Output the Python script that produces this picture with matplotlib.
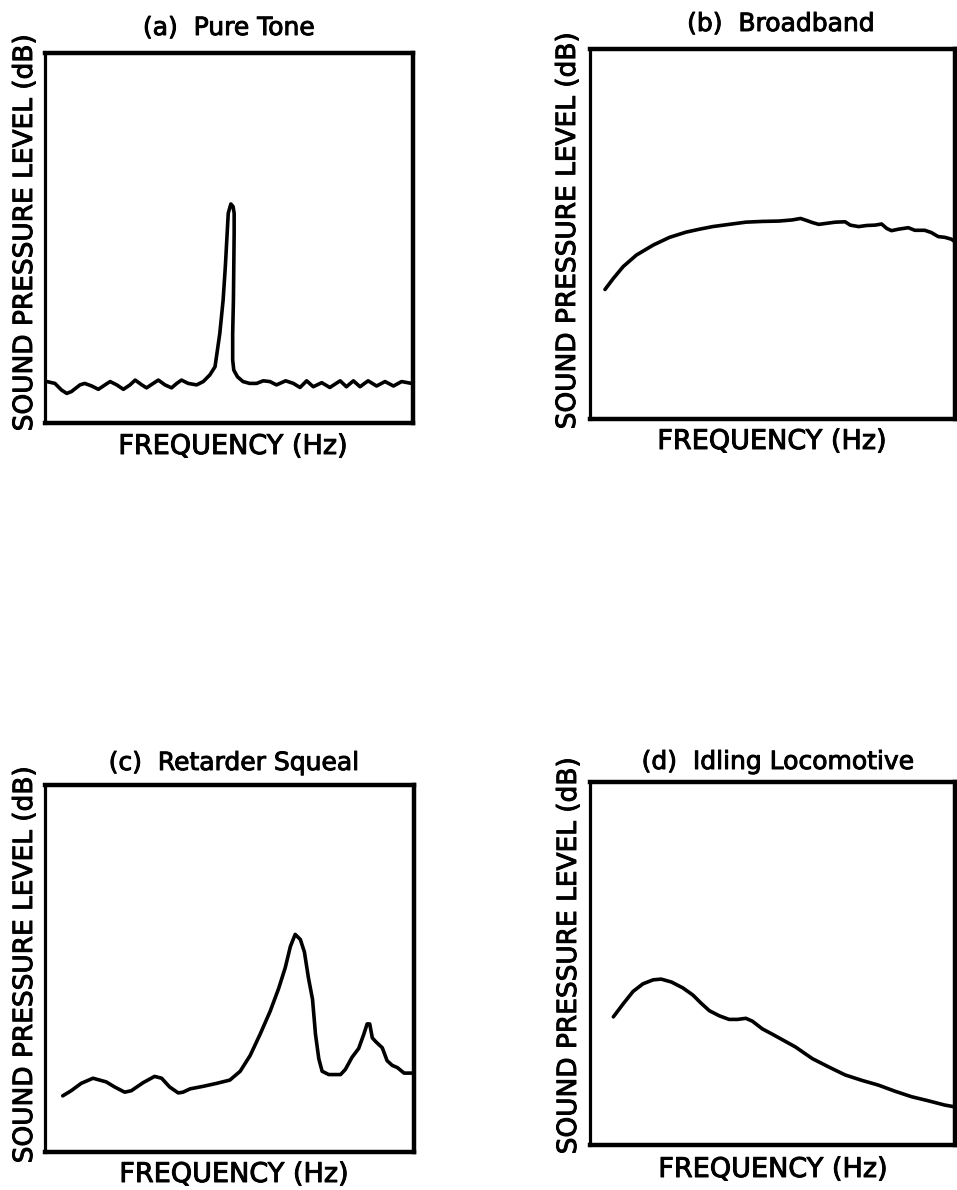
import matplotlib
matplotlib.use("Agg")
from matplotlib import pyplot as plt
from matplotlib import patheffects as pe

W, H = 957, 1190

# (a) Pure Tone - x, y in percent of the plot box
tone_x = [0.5, 2.7, 4.5, 5.9, 7.2, 9.5, 10.8, 12.7, 14.5, 16.3, 17.7, 19.5, 21.3, 23.1,
          24.5, 26.3, 27.6, 29.4, 30.8, 32.6, 34.4, 35.8, 37.1, 38.9, 41.2, 43.0, 44.8,
          46.2, 47.5, 48.4, 49.0, 49.5, 49.8, 50.5, 51.1, 51.4, 51.4, 51.2, 51.0, 51.0,
          51.3, 52.3, 53.8, 55.6, 57.5, 59.3, 61.1, 62.9, 65.4, 67.5, 69.3, 71.1, 72.9,
          75.2, 77.4, 80.2, 81.9, 83.8, 85.6, 87.8, 90.1, 92.4, 94.7, 96.9, 99.6]
tone_y = [11.2, 10.7, 8.9, 8.0, 8.5, 10.3, 10.7, 10.0, 9.1, 10.3, 11.2, 10.3, 9.1, 10.3,
          11.6, 10.3, 9.5, 10.7, 11.6, 10.3, 9.5, 10.7, 11.6, 10.7, 10.3, 11.2, 13.0,
          15.2, 24.2, 33.2, 42.2, 51.3, 56.7, 59.2, 58.5, 56.7, 51.3, 33.2, 24.2, 17.0,
          14.3, 12.5, 11.2, 10.7, 10.7, 11.4, 11.2, 10.3, 11.4, 10.7, 9.6, 11.4, 9.8,
          10.9, 9.6, 11.4, 9.8, 11.4, 9.8, 11.4, 10.0, 11.2, 10.0, 11.2, 10.7]

# (b) Broadband
broad_x = [4.1, 6.4, 9.1, 12.7, 17.3, 21.8, 26.3, 30.0, 33.6, 38.1, 42.7, 47.2, 51.8,
           55.4, 57.7, 59.5, 60.9, 62.7, 64.9, 67.2, 69.9, 71.3, 73.6, 75.8, 78.1, 79.9,
           81.3, 82.6, 84.5, 87.2, 89.0, 91.7, 93.5, 95.4, 97.2, 99.0, 100.0]
broad_y = [35.0, 38.0, 41.2, 44.3, 47.0, 49.1, 50.5, 51.3, 52.0, 52.6, 53.2, 53.4, 53.5,
           53.8, 54.2, 53.6, 53.1, 52.6, 52.9, 53.2, 53.3, 52.4, 52.0, 52.3, 52.4, 52.7,
           51.5, 50.9, 51.3, 51.7, 51.0, 51.0, 50.4, 49.3, 49.1, 48.6, 47.9]

# (c) Retarder Squeal
squeal_x = [4.8, 7.1, 9.8, 13.0, 16.6, 18.9, 21.6, 23.4, 26.6, 29.7, 31.6, 33.8, 36.1,
            37.4, 39.3, 42.9, 46.5, 50.1, 52.9, 55.6, 58.3, 61.0, 63.3, 65.1, 66.5, 67.8,
            69.2, 70.3, 71.4, 72.5, 73.3, 74.2, 75.1, 76.9, 80.1, 81.4, 83.2, 85.0, 86.4,
            87.3, 88.0, 88.7, 89.6, 91.4, 92.7, 94.1, 95.5, 97.3, 99.5]
squeal_y = [15.3, 16.7, 18.7, 20.1, 19.1, 17.7, 16.3, 16.7, 18.9, 20.6, 20.1, 17.7, 16.1,
            16.3, 17.2, 17.9, 18.7, 19.6, 22.0, 26.3, 32.1, 38.3, 44.5, 50.2, 56.0, 59.3,
            57.9, 54.5, 47.4, 41.6, 32.1, 25.4, 22.0, 21.1, 21.1, 22.5, 25.8, 28.2, 32.1,
            34.9, 34.9, 31.1, 30.1, 28.4, 24.9, 23.6, 23.0, 21.5, 21.5]

# (d) Idling Locomotive
idle_x = [6.4, 9.1, 11.8, 14.5, 17.3, 19.5, 22.3, 25.4, 28.2, 30.4, 32.7, 35.4, 38.1,
          40.4, 42.7, 44.5, 47.2, 50.0, 52.7, 56.3, 60.9, 65.4, 69.9, 74.5, 79.0, 83.6,
          88.1, 92.6, 97.2, 100.0]
idle_y = [35.3, 38.9, 42.3, 44.4, 45.5, 45.7, 44.9, 43.3, 41.3, 39.1, 37.0, 35.6, 34.6,
          34.6, 34.9, 34.1, 32.0, 30.5, 29.0, 27.0, 23.8, 21.5, 19.3, 17.8, 16.5, 14.8,
          13.3, 12.2, 11.0, 10.5]

titles = ["(a)  Pure Tone", "(b)  Broadband", "(c)  Retarder Squeal", "(d)  Idling Locomotive"]
ylab = "SOUND PRESSURE LEVEL (dB)"
xlab = "FREQUENCY (Hz)"

# plot boxes in pixels: left, right, top, bottom
boxes = [(45, 413, 53, 423), (590, 955, 49, 419), (45, 414, 785, 1152), (590, 955, 782, 1145)]
# text anchor pixels: title, ylabel, xlabel
title_pos = [(229, 28), (781, 24), (234, 763), (778, 762)]
ylab_pos = [(25, 233), (568, 231), (25, 965), (569, 956)]
xlab_pos = [(233, 447), (772, 442), (234, 1175), (773, 1170)]

series = [(tone_x, tone_y), (broad_x, broad_y), (squeal_x, squeal_y), (idle_x, idle_y)]

fig = plt.figure(figsize=(W / 100, H / 100), dpi=100)
fig.patch.set_facecolor("white")

# slightly heavier text, like the original lettering
heavy = [pe.withStroke(linewidth=0.7, foreground="black")]


def fx(x):
    return x / W


def fy(y):
    return 1 - y / H


for i, (l, r, t, b) in enumerate(boxes):
    ax = fig.add_axes([fx(l), fy(b), (r - l) / W, (b - t) / H])
    ax.plot(series[i][0], series[i][1], color="black", lw=2.6,
            solid_joinstyle="round", solid_capstyle="round")
    ax.set_xlim(0, 100)
    ax.set_ylim(0, 100)
    ax.set_xticks([])
    ax.set_yticks([])
    for side in ["top", "right", "bottom"]:
        ax.spines[side].set_linewidth(3.2)
    ax.spines["left"].set_linewidth(2.3)

    tx, ty = title_pos[i]
    fig.text(fx(tx), fy(ty), titles[i], ha="center", va="center", fontsize=18,
             path_effects=heavy)
    yx, yy = ylab_pos[i]
    fig.text(fx(yx), fy(yy), ylab, ha="center", va="center", rotation=90, fontsize=19,
             path_effects=heavy)
    xx, xy = xlab_pos[i]
    fig.text(fx(xx), fy(xy), xlab, ha="center", va="center", fontsize=19.5,
             path_effects=heavy)

fig.savefig("out.png", dpi=100, facecolor="white")
